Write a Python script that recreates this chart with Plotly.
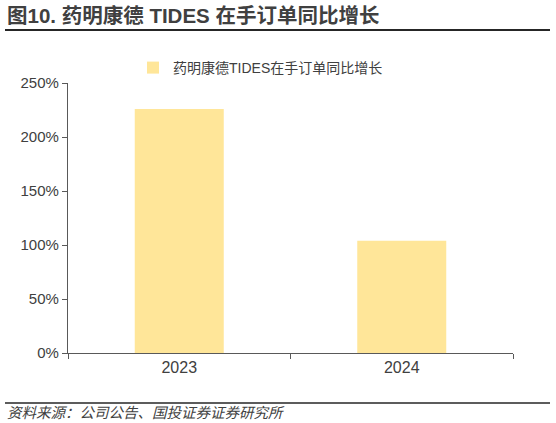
import plotly.graph_objects as go

# data
years = ["2023", "2024"]
growth_pct = [226, 104]
series_name = "药明康德TIDES在手订单同比增长"

fig = go.Figure()
fig.add_trace(go.Bar(
    x=years, y=growth_pct, name=series_name,
    marker=dict(color="#FFE699", line=dict(width=0)),
    width=0.40,
))

font_cn = "Liberation Sans, Arial, Noto Sans CJK SC"
axis_col = "#595959"
L, T = 68, 83      # plot area top-left in px
pw, ph = 445, 270  # plot area size in px


def px(x):  # page px -> paper x
    return (x - L) / pw


def py(y):  # page px -> paper y
    return 1 - (y - T) / ph


fig.update_layout(
    width=556, height=423,
    margin=dict(l=L, r=556 - L - pw, t=T, b=423 - T - ph),
    paper_bgcolor="white", plot_bgcolor="white",
    font=dict(family=font_cn, size=14, color="#404040"),
    showlegend=True,
    legend=dict(orientation="h", x=px(133), y=py(68), xanchor="left", yanchor="middle",
                font=dict(size=14, color="#404040"), itemwidth=30,
                bgcolor="rgba(0,0,0,0)"),
    xaxis=dict(showline=True, linecolor=axis_col, linewidth=1.3,
               ticks="outside", tickson="boundaries", ticklen=5, tickcolor=axis_col,
               showgrid=False, tickfont=dict(size=16)),
    yaxis=dict(range=[0, 250], dtick=50, ticksuffix="%", showline=True,
               linecolor=axis_col, linewidth=1.3, ticks="outside", ticklen=5,
               tickcolor=axis_col, showgrid=False, zeroline=False,
               tickfont=dict(size=15)),
)

# title and source text
fig.add_annotation(text="<b>图10. 药明康德 TIDES 在手订单同比增长</b>",
                   xref="paper", yref="paper", x=px(5), y=py(15.5),
                   xanchor="left", yanchor="middle", showarrow=False,
                   font=dict(size=20.5, color="#404040", family=font_cn))
fig.add_annotation(text="<i>资料来源：公司公告、国投证券证券研究所</i>",
                   xref="paper", yref="paper", x=px(5), y=py(411),
                   xanchor="left", yanchor="middle", showarrow=False,
                   font=dict(size=14.5, color="#404040", family="Noto Sans CJK SC"))

# rule lines under the title and above the source
fig.add_shape(type="line", xref="paper", yref="paper",
              x0=px(5), x1=px(550), y0=py(30), y1=py(30),
              line=dict(color="#262626", width=2))
fig.add_shape(type="line", xref="paper", yref="paper",
              x0=px(5), x1=px(550), y0=py(403), y1=py(403),
              line=dict(color="#262626", width=1.5))

# drop the default 8px body margin so the figure fills the window
fig.write_html("out.html", config={"displayModeBar": False},
               post_script="document.body.style.margin='0';")
